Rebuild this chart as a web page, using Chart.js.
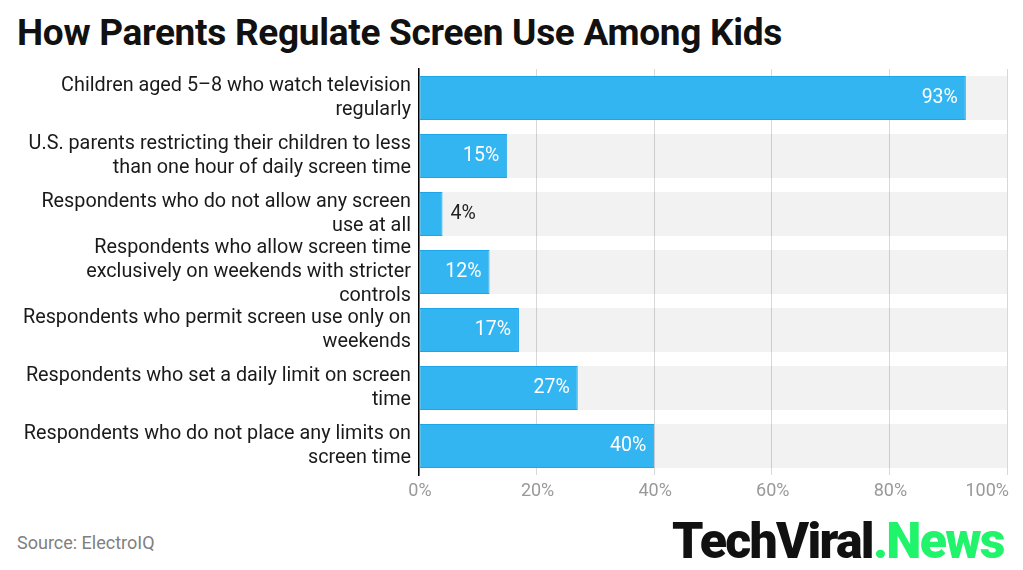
<!DOCTYPE html>
<html>
<head>
<meta charset="utf-8">
<script src="https://cdn.jsdelivr.net/npm/chart.js@4.4.1/dist/chart.umd.min.js"></script>
<style>
    html, body { margin: 0; padding: 0; background: #fff; overflow: hidden; }
    body { width: 1023px; height: 570px; position: relative; font-family: Roboto, sans-serif; }
    #title { position: absolute; left: 17px; top: 11px; font-size: 37px; font-weight: 700; color: #111; letter-spacing: -0.3px; white-space: nowrap; }
    #chartBox { position: absolute; left: 0; top: 60px; width: 1023px; height: 450px; }
    #source { position: absolute; left: 17px; top: 532px; font-size: 18px; color: #808080; }
    #logo { position: absolute; left: 672px; top: 512px; font-size: 50px; font-weight: 900; color: #111; letter-spacing: -1.7px; white-space: nowrap; }
    #logo span { color: #1ff46a; }
</style>
</head>
<body>
<div id="title">How Parents Regulate Screen Use Among Kids</div>
<div id="chartBox"><canvas id="myChart"></canvas></div>
<div id="source">Source: ElectroIQ</div>
<div id="logo">TechViral<span>.News</span></div>

<script>
const categories = [
    ["Children aged 5–8 who watch television", "regularly"],
    ["U.S. parents restricting their children to less", "than one hour of daily screen time"],
    ["Respondents who do not allow any screen", "use at all"],
    ["Respondents who allow screen time", "exclusively on weekends with stricter", "controls"],
    ["Respondents who permit screen use only on", "weekends"],
    ["Respondents who set a daily limit on screen", "time"],
    ["Respondents who do not place any limits on", "screen time"]
];
const shares = [93, 15, 4, 12, 17, 27, 40];
const axisMax = 100;
const tickStep = 20;

// value labels at the end of each bar
const valueLabels = {
    id: 'valueLabels',
    afterDatasetsDraw(chart) {
        const ctx = chart.ctx;
        const meta = chart.getDatasetMeta(1);
        ctx.save();
        ctx.font = '19.5px Roboto';
        ctx.textBaseline = 'middle';
        meta.data.forEach(function (bar, i) {
            const text = shares[i] + '%';
            const width = bar.x - bar.base;
            if (width < 50) {
                ctx.fillStyle = '#222';
                ctx.textAlign = 'left';
                ctx.fillText(text, bar.x + 8, bar.y);
            } else {
                ctx.fillStyle = '#fff';
                ctx.textAlign = 'right';
                ctx.fillText(text, bar.x - 8, bar.y);
            }
        });
        ctx.restore();
    }
};

// x tick labels, last one pulled inside the plot
const xTickLabels = {
    id: 'xTickLabels',
    afterDraw(chart) {
        const ctx = chart.ctx;
        const scale = chart.scales.x;
        ctx.save();
        ctx.font = '18px Roboto';
        ctx.fillStyle = '#999';
        ctx.textBaseline = 'middle';
        scale.ticks.forEach(function (tick, i) {
            const px = scale.getPixelForTick(i);
            if (i === scale.ticks.length - 1) {
                ctx.textAlign = 'right';
                ctx.fillText(tick.value + '%', px + 2, scale.top + 16);
            } else {
                ctx.textAlign = 'center';
                ctx.fillText(tick.value + '%', px + 1, scale.top + 16);
            }
        });
        ctx.restore();
    }
};

new Chart(document.getElementById('myChart'), {
    type: 'bar',
    data: {
        labels: categories,
        datasets: [
            {
                data: shares.map(() => axisMax),
                backgroundColor: 'rgba(0, 0, 0, 0.05)',
                borderWidth: 0,
                grouped: false,
                order: 2
            },
            {
                data: shares,
                backgroundColor: '#33b5f2',
                borderColor: '#1ea6ea',
                borderWidth: 1,
                borderSkipped: false,
                grouped: false,
                order: 1
            }
        ]
    },
    options: {
        indexAxis: 'y',
        responsive: true,
        maintainAspectRatio: false,
        animation: false,
        barPercentage: 0.76,
        categoryPercentage: 1,
        layout: {
            padding: { top: 9, right: 16, left: 0, bottom: 0 }
        },
        plugins: {
            legend: { display: false },
            tooltip: { enabled: false }
        },
        scales: {
            x: {
                min: 0,
                max: axisMax,
                afterFit: function (scale) {
                    scale.height = 35;
                    scale.paddingLeft = 0;
                    scale.paddingRight = 0;
                },
                ticks: { display: false, stepSize: tickStep },
                grid: { color: '#d8d8d8', drawTicks: false },
                border: { display: false }
            },
            y: {
                afterFit: function (scale) {
                    scale.width = 419;
                    scale.paddingTop = 0;
                    scale.paddingBottom = 0;
                },
                ticks: {
                    autoSkip: false,
                    padding: 8,
                    color: '#1a1a1a',
                    font: { family: 'Roboto', size: 19.8, lineHeight: 1.2 }
                },
                grid: { display: false, drawTicks: false },
                border: { display: true, color: '#000', width: 1.5 }
            }
        }
    },
    plugins: [valueLabels, xTickLabels]
});
</script>
</body>
</html>
